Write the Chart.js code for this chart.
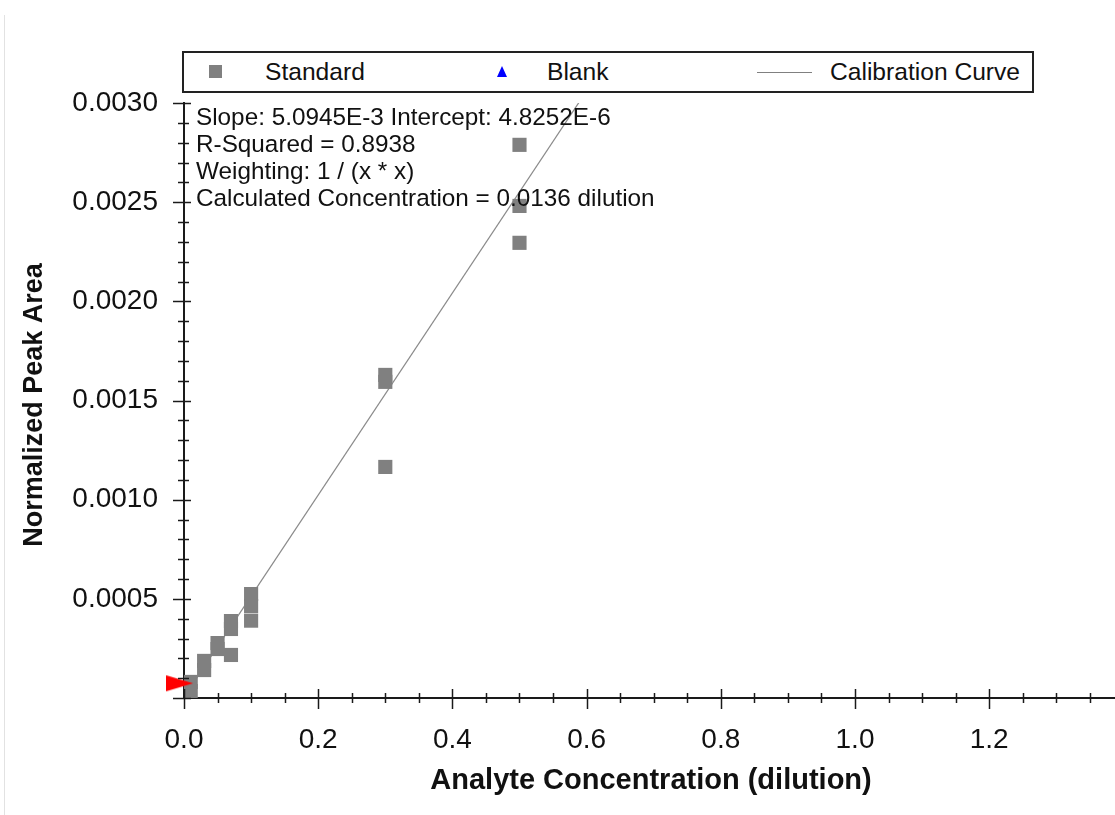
<!DOCTYPE html>
<html>
<head>
<meta charset="utf-8">
<script src="https://cdn.jsdelivr.net/npm/chart.js@4.4.1/dist/chart.umd.min.js"></script>
<style>
html,body{margin:0;padding:0;background:#fff;}
#wrap{position:relative;width:1115px;height:815px;overflow:hidden;background:#fff;}
#c{position:absolute;left:0;top:0;}
#edge{position:absolute;left:4px;top:15px;width:1px;height:800px;background:#e2e2e2;}
#legend{position:absolute;left:182px;top:51px;width:848px;height:38px;border:2px solid #222;background:#fff;font:24.6px "Liberation Sans",Arial,sans-serif;color:#111;}
#legend .t{position:absolute;top:0;line-height:38px;white-space:nowrap;}
#legend .sq{position:absolute;left:25px;top:12px;width:13px;height:13px;background:#808080;}
#legend .tri{position:absolute;left:313px;top:13px;width:0;height:0;border-left:5px solid transparent;border-right:5px solid transparent;border-bottom:11px solid #0000ff;}
#legend .ln{position:absolute;left:573px;top:19px;width:55px;height:1px;background:#808080;}
</style>
</head>
<body>
<div id="wrap">
  <canvas id="c" width="1115" height="815"></canvas>
  <div id="edge"></div>
  <div id="legend">
    <span class="sq"></span><span class="t" style="left:81px">Standard</span>
    <span class="tri"></span><span class="t" style="left:363px">Blank</span>
    <span class="ln"></span><span class="t" style="left:646px">Calibration Curve</span>
  </div>
</div>
<script>
// ---- data ----
const standardX = [0.01, 0.01, 0.03, 0.03, 0.05, 0.05, 0.07, 0.07, 0.07, 0.1, 0.1, 0.1, 0.3, 0.3, 0.3, 0.5, 0.5, 0.5];
const standardY = [0.000035, 0.000081, 0.000141, 0.000187, 0.000247, 0.000277, 0.000217, 0.000348, 0.000388, 0.000390, 0.000464, 0.000524, 0.001165, 0.001594, 0.001629, 0.002295, 0.002481, 0.002789];
const curveX = [0, 0.59];
const curveY = [0.0000048, 0.003010];
const calcX = [0.0136];
const calcY = [0.0000741];
const annotationLines = [
  'Slope: 5.0945E-3 Intercept: 4.8252E-6',
  'R-Squared = 0.8938',
  'Weighting: 1 / (x * x)',
  'Calculated Concentration = 0.0136 dilution'
];
const xTitle = 'Analyte Concentration (dilution)';
const yTitle = 'Normalized Peak Area';
const xMin = 0, xMax = 1.3875, xStep = 0.2, xMinor = 0.05;
const yMin = 0, yMax = 0.003, yStep = 0.0005, yMinor = 0.0001;

const FONT = '"Liberation Sans", Arial, sans-serif';

// red calculated-concentration marker (apex at the point)
const flag = document.createElement('canvas');
flag.width = 54; flag.height = 18;
(function(){
  const g = flag.getContext('2d');
  g.fillStyle = '#ff0000';
  g.beginPath();
  g.moveTo(0, 1); g.lineTo(27, 9); g.lineTo(0, 17); g.closePath();
  g.fill();
})();

const tickPlugin = {
  id: 'ticksAndText',
  afterDatasetsDraw(chart) {
    const ctx = chart.ctx;
    const xs = chart.scales.x, ys = chart.scales.y;
    const ca = chart.chartArea;
    ctx.save();
    ctx.strokeStyle = '#1a1a1a';
    ctx.lineWidth = 1.5;
    // x ticks
    const nx = Math.round((xMax - xMin) / xMinor);
    for (let i = 0; i <= nx; i++) {
      const v = xMin + i * xMinor;
      const px = Math.round(xs.getPixelForValue(v)) + 0.5;
      if (px > ca.right + 1) break;
      const major = (i % 4 === 0);
      ctx.beginPath();
      ctx.moveTo(px, ca.bottom - (major ? 9 : 5));
      ctx.lineTo(px, ca.bottom + (major ? 11 : 5));
      ctx.stroke();
    }
    // y ticks
    const ny = Math.round((yMax - yMin) / yMinor);
    for (let i = 0; i <= ny; i++) {
      const v = yMin + i * yMinor;
      const py = Math.round(ys.getPixelForValue(v)) + 0.5;
      const major = (i % 5 === 0);
      ctx.beginPath();
      ctx.moveTo(ca.left - (major ? 11 : 6), py);
      ctx.lineTo(ca.left + (major ? 7 : 5), py);
      ctx.stroke();
    }
    // annotation text
    ctx.fillStyle = '#111';
    ctx.font = '24.3px ' + FONT;
    ctx.textBaseline = 'middle';
    ctx.textAlign = 'left';
    annotationLines.forEach((s, i) => ctx.fillText(s, ca.left + 12, ca.top + 15 + i * 27));
    // axis titles
    ctx.font = 'bold 29px ' + FONT;
    ctx.textAlign = 'center';
    ctx.fillText(xTitle, 651, 781);
    ctx.font = 'bold 27px ' + FONT;
    ctx.save();
    ctx.translate(35, 405);
    ctx.rotate(-Math.PI / 2);
    ctx.fillText(yTitle, 0, 0);
    ctx.restore();
    ctx.restore();
  }
};

new Chart(document.getElementById('c'), {
  type: 'scatter',
  data: {
    datasets: [
      {
        label: 'Calculated',
        data: calcX.map((x, i) => ({x, y: calcY[i]})),
        pointStyle: flag,
        pointRadius: 10,
        clip: false
      },
      {
        label: 'Standard',
        data: standardX.map((x, i) => ({x, y: standardY[i]})),
        pointStyle: 'rect',
        pointRadius: 10,
        backgroundColor: '#808080',
        borderColor: '#808080',
        borderWidth: 0
      },
      {
        label: 'Calibration Curve',
        type: 'line',
        data: curveX.map((x, i) => ({x, y: curveY[i]})),
        borderColor: '#8a8a8a',
        borderWidth: 1.2,
        pointRadius: 0,
        fill: false
      }
    ]
  },
  options: {
    responsive: false,
    animation: false,
    layout: { autoPadding: false, padding: { left: 0, right: 0, top: 103, bottom: 0 } },
    plugins: { legend: { display: false }, tooltip: { enabled: false } },
    scales: {
      x: {
        type: 'linear', min: xMin, max: xMax,
        afterFit(s) { s.height = 117; },
        grid: { display: false, drawTicks: false },
        border: { display: true, color: '#1a1a1a', width: 2 },
        ticks: {
          stepSize: xStep, includeBounds: false, padding: 25, color: '#111',
          font: { family: FONT, size: 28 },
          maxRotation: 0,
          callback: v => v.toFixed(1)
        }
      },
      y: {
        type: 'linear', min: yMin, max: yMax,
        afterFit(s) { s.width = 184; },
        grid: { display: false, drawTicks: false },
        border: { display: true, color: '#1a1a1a', width: 2 },
        ticks: {
          stepSize: yStep, padding: 26, color: '#111',
          font: { family: FONT, size: 28 },
          callback: v => (Math.abs(v) < 1e-12 ? '' : v.toFixed(4))
        }
      }
    }
  },
  plugins: [tickPlugin]
});
</script>
</body>
</html>
